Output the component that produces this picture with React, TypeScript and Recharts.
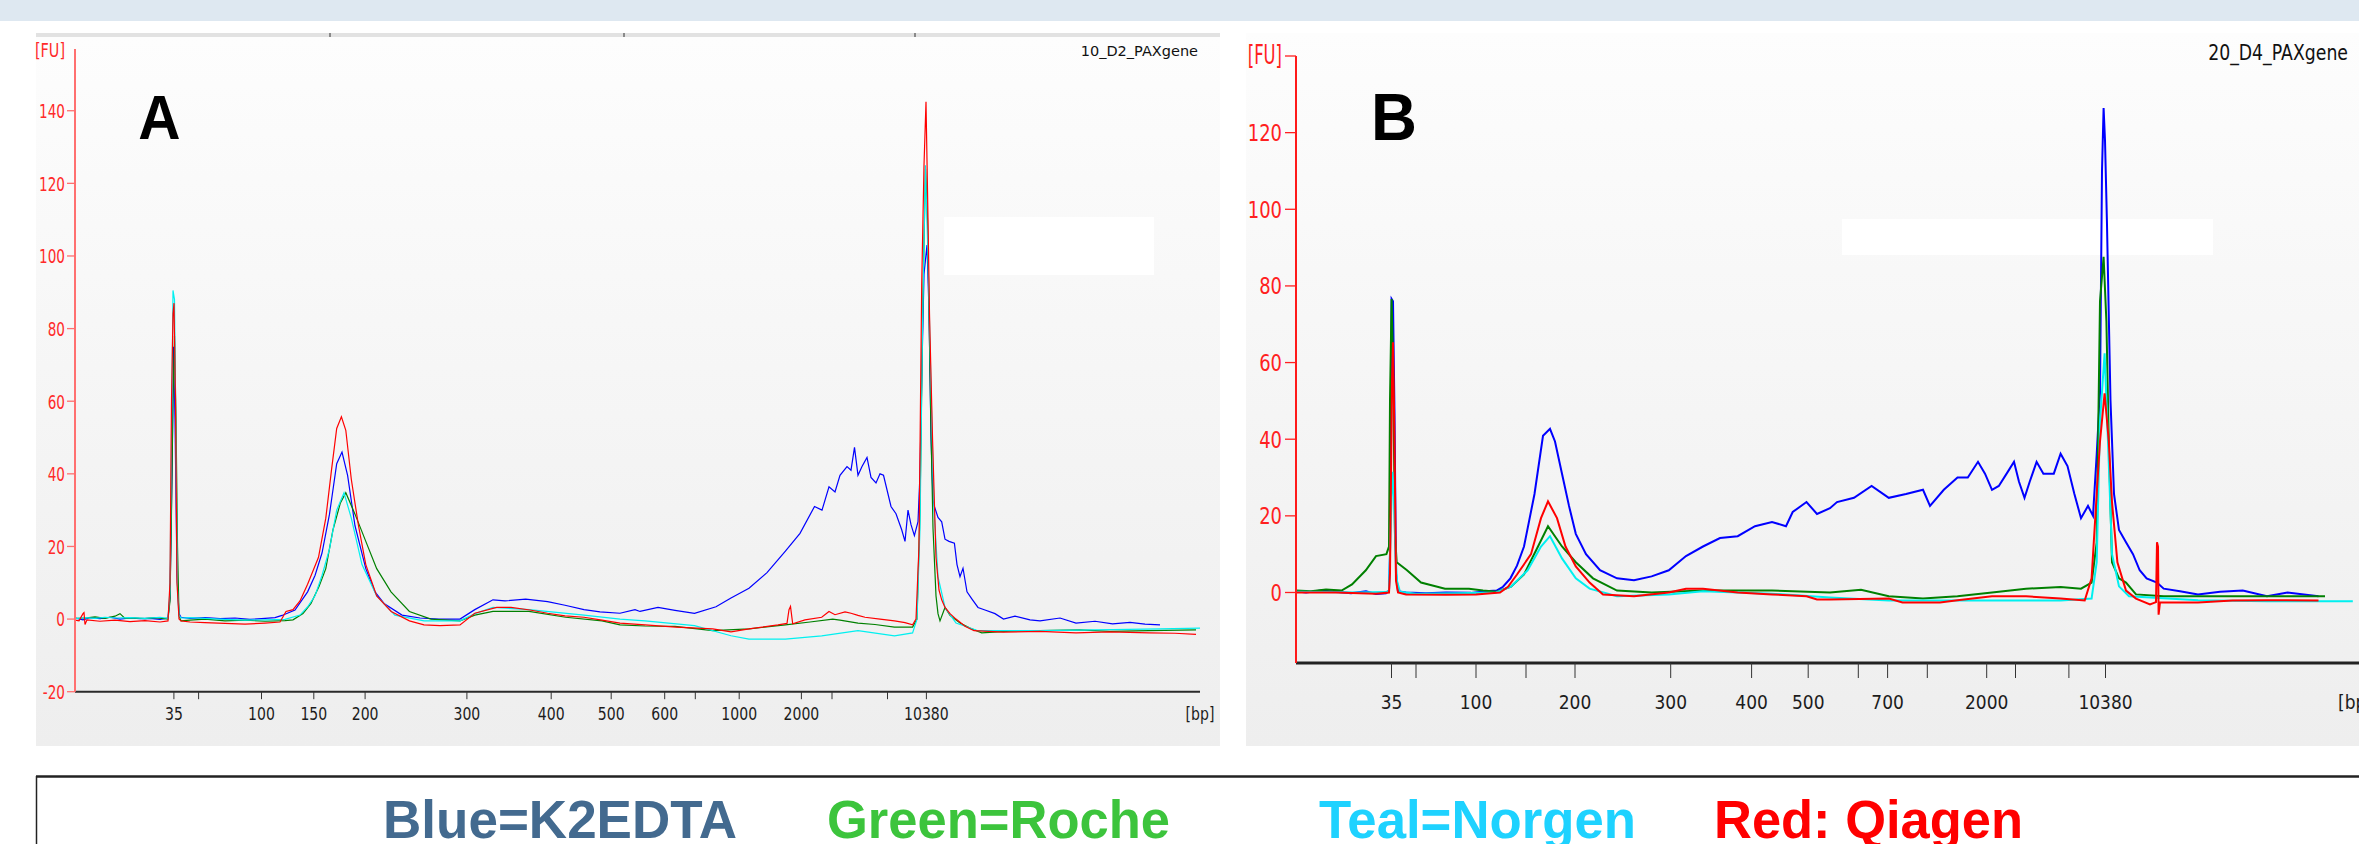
import React from 'react';
import { LineChart, Line, XAxis, YAxis } from 'recharts';

type Pt = [number, number];

// ---------------- Panel A : 10_D2_PAXgene ----------------
// x = migration position (arb. units), y = fluorescence [FU]
const A_X_TICKS = [98.9, 123.6, 186.5, 238.8, 290.1, 391.9, 476.2, 536.2, 589.7, 620.3, 664.2, 726.4, 757, 812.5, 851.4, 1125];
const A_X_LABELS = ['35', '', '100', '150', '200', '300', '400', '500', '600', '', '1000', '2000', '', '', '10380', '[bp]'];
const A_Y_TICKS = [-20, 0, 20, 40, 60, 80, 100, 120, 140, 157];

const A_BLUE: Pt[] = [
  [0, 0.3], [8, -0.2], [15, 0.4], [25, 0.1], [35, 0.5], [45, 0.0], [55, 0.3], [65, 0.1], [75, 0.2], [85, -0.1], [93, 0.3],
  [95, 6], [97, 40], [98.5, 75], [100, 55], [102, 12], [104, 1.5], [106, 0.5],
  [115, 0.2], [130, 0.4], [145, 0.1], [160, 0.3], [175, -0.1], [190, 0.2], [200, 0.4], [207, 1.0],
  [220, 2.5], [232.6, 7.5], [240, 12], [247, 18.2], [254.5, 28.9], [261.7, 42.8], [267, 46], [272.6, 39.6], [280, 25.7],
  [290.8, 13.9], [300, 7.5], [309, 4.3], [327, 1.1], [345, 0.3], [363.5, 0], [385, 0], [399.8, 2.6], [418, 5.3], [430, 5.0],
  [450.7, 5.5], [472.6, 4.8], [490, 3.8], [509, 2.6], [525, 2.0], [545, 1.6], [560, 2.6], [565, 2.1], [583, 3.2], [600, 2.4],
  [619.5, 1.6], [641, 3.4], [656, 5.8], [674, 8.5], [692, 12.8], [710.4, 18.7], [725, 23.6], [739.5, 31], [747, 30],
  [754, 36.4], [760, 35], [765, 39.6], [772, 42], [776, 41], [779.5, 47.3], [783, 39.6], [787, 42], [792, 44.5], [796, 39],
  [801, 37.5], [805, 40], [808.5, 39.6], [816, 31], [821, 29], [826.7, 24.6], [830, 21.4], [833, 30], [836, 26], [839.4, 23],
  [843, 26.8], [845, 40], [847, 70], [849, 95], [852, 103], [854, 85], [856, 50], [858, 33], [859.4, 31], [863, 28],
  [866.7, 26.8], [870, 22], [874, 21.4], [879.4, 20.9], [882, 15], [885, 11.7], [888, 14], [892, 7.5], [897, 5.5], [903, 3.2],
  [910, 2.5], [920, 1.5], [928.5, 0], [940, 0.8], [955, -0.2], [965, -0.5], [985, 0.3], [1001, -1.1], [1020, -0.6],
  [1037.6, -1.3], [1055, -0.9], [1070, -1.4], [1085, -1.6],
];

const A_GREEN: Pt[] = [
  [0, 0.2], [10, 0.3], [20, 0.6], [30, 0.2], [40, 0.8], [45, 1.5], [50, 0.2], [60, 0.3], [70, 0.1], [80, 0.4], [93, 0.0],
  [95, 5], [96.5, 30], [98, 60], [99.5, 78], [101, 55], [102.5, 20], [104, 1], [106, -0.5],
  [115, -0.3], [130, 0.0], [150, -0.5], [170, -0.3], [190, -0.6], [210, -0.4], [218, -0.2], [228, 1.5], [236, 4.3], [244, 9],
  [250.8, 13.9], [258, 24.6], [265.4, 32], [270.8, 34.8], [280, 28.9], [290.8, 21.4], [301.7, 13.9], [316, 7.5], [334.4, 2.1],
  [356, 0], [385, -0.5], [399.8, 1.1], [418, 2.1], [454, 2.1], [490.7, 0.5], [527, -0.5], [545, -1.6], [570, -1.9], [600, -2.0],
  [637.7, -3.2], [674, -2.7], [710.4, -1.6], [735, -0.8], [757.7, 0], [765, -0.3], [783, -1.1], [800, -1.5], [819.5, -2.2],
  [837.6, -2.2], [842, 0], [845, 30], [848, 90], [850.5, 124], [852.5, 110], [855.8, 54.6], [858, 25], [861, 6.4], [863, 1.5],
  [865, -0.5], [870, 3.2], [875, 1.0], [885, -1.1], [895, -2.5], [906.7, -3.8], [935, -3.3], [965, -3.2], [1005, -3.0],
  [1035, -3.4], [1074, -3.2], [1121, -3.0],
];

const A_TEAL: Pt[] = [
  [0, 0.1], [10, 0.4], [20, 0.2], [30, 0.5], [40, 0.3], [55, 0.4], [70, 0.2], [85, 0.5], [93, 0.2],
  [95, 8], [96.5, 50], [98, 90.5], [99.5, 88], [101, 45], [102.5, 8], [104, 1], [106, 0.3],
  [115, 0.4], [130, 0.2], [150, -0.1], [170, -0.3], [190, -0.2], [210, -0.1], [225, 1.1], [233, 3.5], [240, 6.4], [247, 12],
  [254.5, 19.3], [261.7, 30], [269, 34.8], [276.3, 27.8], [287, 15], [301.7, 6.4], [319.9, 1.1], [349, -0.5], [385, -0.5],
  [400, 1.5], [418, 3.2], [454, 2.6], [509, 1.1], [545, 0], [570, -0.5], [619.5, -1.8], [656, -4.6], [674, -5.5], [710.4, -5.5],
  [746.7, -4.6], [783, -3.2], [819.5, -4.6], [837.6, -3.8], [842, 0], [845, 25], [847.5, 80], [850.4, 125], [853, 100],
  [855.8, 66], [859, 30], [863, 11.7], [870, 3.2], [881, -1.1], [903, -3.2], [965, -3.2], [1037.6, -2.9], [1085, -2.7], [1125, -2.5],
];

const A_RED: Pt[] = [
  [0, -0.3], [4, -0.5], [8, 1.5], [9, 1.8], [10, -1.5], [12, -0.2], [25, -0.6], [40, -0.3], [55, -0.7], [70, -0.4], [85, -0.8], [93, -0.5],
  [95, 10], [96.5, 60], [98, 84], [99, 87], [100.5, 60], [102, 10], [104, 0], [106, -0.5],
  [115, -0.8], [130, -1.0], [150, -1.2], [170, -1.4], [190, -1.1], [205, -0.8], [211, 2.1], [218, 2.6], [225, 5.0], [232.6, 9.6],
  [243.5, 17], [250.8, 27.8], [256.3, 40.6], [261.7, 52.5], [266.4, 55.7], [270.8, 52], [276.3, 38.5], [283.5, 25.7], [290.8, 15],
  [301.7, 6.4], [316.2, 2.1], [334.4, -0.5], [349, -1.6], [365, -1.8], [385, -1.6], [399.8, 1.6], [421.7, 3.2], [436, 3.2],
  [455, 2.5], [472.6, 1.6], [490, 0.9], [509, 0.5], [527, -0.3], [545, -1.1], [570, -1.6], [601, -2.2], [637.7, -2.7], [656, -3.5],
  [674, -2.7], [703, -1.6], [712, -1.2], [714, 2.6], [715.5, 3.5], [717.7, -1.3], [730, -0.2], [746.7, 0.5], [754, 2.1], [760, 1.2],
  [770, 2.0], [776, 1.6], [783, 1.0], [790, 0.5], [805, 0], [819.5, -0.5], [830, -1.0], [837.6, -1.6], [841, 0], [844, 20],
  [846.7, 92], [849, 125], [851, 142.5], [853, 110], [854.5, 84], [857.6, 49], [861, 17], [864, 8], [866.7, 5.3], [870, 3.2],
  [875, 1.5], [881, 0], [890, -2], [899, -3.2], [928.5, -3.6], [965, -3.4], [1001, -3.8], [1035, -3.5], [1074, -3.8], [1100, -3.9], [1121, -4.2],
];

// ---------------- Panel B : 20_D4_PAXgene ----------------
const B_X_TICKS = [95.5, 120, 180, 230, 279, 374.7, 455.6, 512.2, 562.3, 591.6, 631.3, 690.7, 719.5, 772.9, 809.5, 1059.5];
const B_X_LABELS = ['35', '', '100', '', '200', '300', '400', '500', '', '700', '', '2000', '', '', '10380', '[bp]'];
const B_Y_TICKS = [0, 20, 40, 60, 80, 100, 120, 140];

const B_BLUE: Pt[] = [
  [0, 0.3], [10, 0], [25, 0.5], [40, 0.2], [55, -0.2], [70, 0.3], [80, -0.4], [90, -0.2], [93, 0.5],
  [94, 10], [95.6, 76.6], [97, 76], [98.5, 46.7], [100, 5], [102, 0.3],
  [110, 0], [130, -0.2], [150, 0.0], [175, -0.1], [190, 0.3], [200.6, 0.5], [207, 1.5], [214.4, 3.7], [221, 7], [228, 12],
  [238.5, 25.7], [247, 40.9], [254, 42.7], [259, 39.4], [266, 31], [273, 22.6], [279.8, 15.3], [290, 10], [304, 5.8], [321, 3.7],
  [338, 3.2], [355.6, 4.2], [372.8, 5.8], [390, 9.5], [407, 12], [424, 14.2], [441.7, 14.7], [459, 17.3], [476, 18.4], [490, 17.3],
  [496.7, 21], [510.5, 23.6], [521, 20.5], [534, 22], [541, 23.6], [558, 24.7], [575.6, 27.8], [592.8, 24.7], [610, 25.7],
  [627, 26.8], [634, 22.6], [647.8, 26.8], [661.5, 30], [671.8, 30], [682, 34.1], [689, 31], [696, 26.8], [702.8, 27.8], [713, 32],
  [718, 34.1], [723, 28.9], [728.5, 24.7], [733.7, 28.9], [740.6, 34.1], [747.4, 31], [757.8, 31], [764.6, 36.2], [771.5, 33],
  [778.4, 25.7], [785, 19.4], [792, 22.6], [797, 20], [800.7, 36], [804, 52], [806, 110], [807.6, 126.4], [809, 118], [811, 96],
  [812.8, 72], [814.5, 50], [818, 25.7], [823, 16.3], [830, 13.1], [837, 10], [843.7, 5.8], [850.6, 3.7], [861, 2.6], [867.7, 1],
  [884, 0.3], [902, -0.5], [924, 0.2], [946.8, 0.5], [971, -1], [991.5, 0], [1022.5, -1],
];

const B_GREEN: Pt[] = [
  [0, 0.5], [15, 0.3], [30, 0.8], [45.6, 0.5], [56, 2.1], [69.8, 5.8], [80, 9.5], [90.4, 10], [93, 12], [94, 50], [95.6, 76.6],
  [97, 60], [99, 15], [100.7, 7.9], [111, 5.8], [125, 2.6], [149, 1], [173, 1], [187, 0.5], [200.6, 0.2], [215, 1.5], [228, 4.7],
  [242, 12], [252, 17.3], [266, 12], [279.8, 7.9], [297, 3.7], [321, 0.5], [355.6, 0], [407, 0.5], [476, 0.5], [534, 0],
  [565, 0.7], [592.8, -1], [627, -1.6], [661.5, -1], [696, 0], [730, 1], [764.6, 1.4], [785, 1], [795.6, 2.6], [800.7, 13],
  [804, 76], [807.6, 87.6], [810.4, 70.7], [812.8, 39.4], [816, 7.9], [823, 3.7], [830, 2.6], [840, -0.5], [867.7, -1],
  [936.5, -1], [1029, -1],
];

const B_TEAL: Pt[] = [
  [0, 0.2], [30, 0.1], [60, 0], [90, 0.1], [93, 0.5], [95, 20], [96.5, 31.5], [98, 25], [99.5, 10], [101, 3], [104, 0.2],
  [120, -0.3], [160, -0.2], [200, 0], [215, 1.5], [231.6, 5.8], [245, 12], [254, 14.7], [266, 8.9], [279.8, 3.7], [293.6, 1],
  [321, -1], [372.8, -0.5], [407, 0.3], [476, -0.3], [534, -1.3], [592.8, -2.1], [696, -2.1], [764.6, -2.1], [795.6, -1.6],
  [800.7, 7.9], [804, 44.6], [808.6, 62.4], [812, 39.4], [816, 10], [823, 1.6], [833, -1], [902, -2], [971, -2.3], [1056.8, -2.3],
];

const B_RED: Pt[] = [
  [0, 0], [40, 0], [80, -0.3], [93, 0], [94, 5], [96, 55], [97, 65.3], [98.5, 40], [100, 3], [102, 0],
  [110, -0.5], [150, -0.6], [180, -0.5], [204, 0], [212, 1.5], [221, 4.7], [235, 10], [245, 19.4], [252, 23.8], [261, 19.4],
  [269.5, 12], [279.8, 6.8], [293.6, 2.6], [307, -0.5], [338, -1], [372.8, 0], [390, 1], [407, 1], [441.7, 0], [476, -0.5],
  [510.5, -1], [521, -1.8], [534, -1.8], [592.8, -1.6], [606.5, -2.6], [644, -2.6], [661.5, -2.0], [696, -1], [730, -1],
  [764.6, -1.6], [788.7, -2.1], [795.6, 3.7], [800.7, 25.7], [804, 39.4], [808.6, 52], [812.8, 39.4], [816, 23.6], [821.4, 7.9],
  [830, 0.5], [840, -1.6], [854, -3.1], [860, -2.5], [861, 13.1], [862, 12], [862.6, -5.8], [864, -2.6], [902, -2.6],
  [936.5, -2.1], [971, -2.0], [1022.5, -2.1],
];

const SERIES_KEYS = ['blue', 'green', 'teal', 'red'];
const SERIES_COLORS: Record<string, string> = { blue: '#0000ff', green: '#008000', teal: '#00f0f0', red: '#ff0000' };

const LEGEND_TEXTS = ['Blue=K2EDTA', 'Green=Roche', 'Teal=Norgen', 'Red: Qiagen'];
const LEGEND_COLORS = ['#436a8f', '#3cc43c', '#1ed2ff', '#ff0000'];

function buildTable(series: Record<string, Pt[]>) {
  const rows = new Map<number, Record<string, number>>();
  for (const [key, pts] of Object.entries(series)) {
    for (const [x, y] of pts) {
      const r = rows.get(x) ?? { pos: x };
      r[key] = y;
      rows.set(x, r);
    }
  }
  return Array.from(rows.values()).sort((a, b) => a.pos - b.pos);
}

const DATA_A = buildTable({ blue: A_BLUE, green: A_GREEN, teal: A_TEAL, red: A_RED });
const DATA_B = buildTable({ blue: B_BLUE, green: B_GREEN, teal: B_TEAL, red: B_RED });

const TICK_FONT = "'DejaVu Sans', Verdana, sans-serif";
const BOLD_FONT = "'Liberation Sans', Arial, sans-serif";

type XTickCfg = { positions: number[]; labels: string[]; axisY: number; len: number; baseY: number; fs: number; sx: number };
const makeXTick = (c: XTickCfg) => (props: any) => {
  const { x, payload } = props;
  const i = c.positions.indexOf(payload.value);
  const label = i >= 0 ? c.labels[i] : '';
  const unit = label === '[bp]';
  return (
    <g>
      {!unit && <line x1={x} x2={x} y1={c.axisY} y2={c.axisY + c.len} stroke="#333" strokeWidth={1} />}
      {label && (
        <text transform={`translate(${x},${c.baseY}) scale(${c.sx},1)`} textAnchor="middle" fontFamily={TICK_FONT} fontSize={c.fs} fill="#1c1c1c">
          {label}
        </text>
      )}
    </g>
  );
};

type YTickCfg = { top: number; axisX: number; len: number; right: number; fs: number; sx: number; dy: number; color: string; lineColor: string; topLine: boolean; topFs: number; topSx: number; topDy: number };
const makeYTick = (c: YTickCfg) => (props: any) => {
  const { y, payload } = props;
  const v = payload.value;
  const isTop = v === c.top;
  const label = isTop ? '[FU]' : String(v);
  return (
    <g>
      {(!isTop || c.topLine) && <line x1={c.axisX - c.len} x2={c.axisX} y1={y} y2={y} stroke={c.lineColor} strokeWidth={1.3} />}
      <text
        transform={`translate(${c.right},${y + (isTop ? c.topDy : c.dy)}) scale(${isTop ? c.topSx : c.sx},1)`}
        textAnchor="end"
        fontFamily={TICK_FONT}
        fontSize={isTop ? c.topFs : c.fs}
        fill={c.color}
      >
        {label}
      </text>
    </g>
  );
};

const xTickA = makeXTick({ positions: A_X_TICKS, labels: A_X_LABELS, axisY: 691.7, len: 7.5, baseY: 720, fs: 18, sx: 0.78 });
const yTickA = makeYTick({ top: 157, axisX: 75, len: 8, right: 65, fs: 20, sx: 0.68, dy: 7.3, color: '#ff2a2a', lineColor: '#ff6f6f', topLine: false, topFs: 20, topSx: 0.72, topDy: 8 });
const xTickB = makeXTick({ positions: B_X_TICKS, labels: B_X_LABELS, axisY: 663, len: 15, baseY: 709.3, fs: 19.6, sx: 0.87 });
const yTickB = makeYTick({ top: 140, axisX: 56, len: 11, right: 42, fs: 23.3, sx: 0.77, dy: 8.5, color: '#ff2020', lineColor: '#ff2020', topLine: true, topFs: 26, topSx: 0.63, topDy: 8 });

function renderLines(width: number) {
  return SERIES_KEYS.map((k) => (
    <Line
      key={k}
      type="linear"
      dataKey={k}
      stroke={SERIES_COLORS[k]}
      strokeWidth={width}
      dot={false}
      activeDot={false}
      connectNulls
      isAnimationActive={false}
    />
  ));
}

export default function App() {
  return (
    <div style={{ position: 'absolute', left: 0, top: 0, width: 2359, height: 844, overflow: 'hidden', background: '#ffffff' }}>
      {/* header banner */}
      <div style={{ position: 'absolute', left: 0, top: 0, width: 2359, height: 21, background: '#dee8f1' }} />
      {/* panel backgrounds */}
      <div style={{ position: 'absolute', left: 36, top: 37, width: 1184, height: 709, background: 'linear-gradient(#fdfdfd, #eeeeee)' }} />
      <div style={{ position: 'absolute', left: 1246, top: 33, width: 1113, height: 713, background: 'linear-gradient(#fdfdfd, #eeeeee)' }} />
      {/* white masks */}
      <div style={{ position: 'absolute', left: 943.5, top: 216.5, width: 210.5, height: 58.3, background: '#ffffff' }} />
      <div style={{ position: 'absolute', left: 1842, top: 219, width: 371, height: 36, background: '#ffffff' }} />

      {/* Panel A chart */}
      <div style={{ position: 'absolute', left: 0, top: 0 }}>
        <LineChart width={1220} height={746} data={DATA_A} margin={{ top: 49, right: 20, bottom: 0, left: 0 }}>
          <XAxis
            type="number"
            dataKey="pos"
            domain={[0, 1125]}
            ticks={A_X_TICKS}
            interval={0}
            height={54.3}
            tickLine={false}
            axisLine={{ stroke: '#2a2a2a', strokeWidth: 2 }}
            tick={xTickA}
          />
          <YAxis
            type="number"
            domain={[-20, 157]}
            ticks={A_Y_TICKS}
            interval={0}
            width={75}
            tickLine={false}
            axisLine={{ stroke: '#ff7070', strokeWidth: 2 }}
            tick={yTickA}
          />
          {renderLines(1.2)}
        </LineChart>
      </div>

      {/* Panel B chart */}
      <div style={{ position: 'absolute', left: 1240, top: 0 }}>
        <LineChart width={1119} height={746} data={DATA_B} margin={{ top: 56, right: 0, bottom: 0, left: 0 }}>
          <XAxis
            type="number"
            dataKey="pos"
            domain={[0, 1063]}
            ticks={B_X_TICKS}
            interval={0}
            height={83}
            tickLine={false}
            axisLine={{ stroke: '#222', strokeWidth: 3 }}
            tick={xTickB}
          />
          <YAxis
            type="number"
            domain={[-18.4, 140]}
            ticks={B_Y_TICKS}
            interval={0}
            width={56}
            tickLine={false}
            axisLine={{ stroke: '#ff1a1a', strokeWidth: 2 }}
            tick={yTickB}
          />
          {renderLines(2)}
        </LineChart>
      </div>

      {/* overlay text & decorations */}
      <svg width={2359} height={844} style={{ position: 'absolute', left: 0, top: 0, pointerEvents: 'none' }}>
        <rect x={36} y={33} width={1184} height={4} fill="#e2e2e2" />
        <line x1={330} x2={330} y1={33} y2={37} stroke="#333" />
        <line x1={624} x2={624} y1={33} y2={37} stroke="#333" />
        <line x1={915} x2={915} y1={33} y2={37} stroke="#333" />

        <text x={1198} y={55.6} textAnchor="end" fontFamily={TICK_FONT} fontSize={14.5} fill="#111">10_D2_PAXgene</text>
        <text transform="translate(2348,60) scale(0.84,1)" textAnchor="end" fontFamily={TICK_FONT} fontSize={20.6} fill="#111">20_D4_PAXgene</text>

        <text transform="translate(159.5,139.4) scale(0.93,1)" textAnchor="middle" fontFamily={BOLD_FONT} fontWeight="bold" fontSize={63} fill="#000">A</text>
        <text transform="translate(1394,140.4) scale(0.95,1)" textAnchor="middle" fontFamily={BOLD_FONT} fontWeight="bold" fontSize={67} fill="#000">B</text>

        {/* legend box */}
        <line x1={36} x2={2359} y1={776.5} y2={776.5} stroke="#222" strokeWidth={2.5} />
        <line x1={36.5} x2={36.5} y1={776} y2={844} stroke="#222" strokeWidth={1.5} />
        {LEGEND_TEXTS.map((t, i) => {
          const xs = [383, 827, 1319, 1714];
          const ws = [354, 343, 317, 309];
          return (
            <text
              key={t}
              x={xs[i]}
              y={838}
              textLength={ws[i]}
              lengthAdjust="spacingAndGlyphs"
              fontFamily={BOLD_FONT}
              fontWeight="bold"
              fontSize={54}
              fill={LEGEND_COLORS[i]}
            >
              {t}
            </text>
          );
        })}
      </svg>
    </div>
  );
}
